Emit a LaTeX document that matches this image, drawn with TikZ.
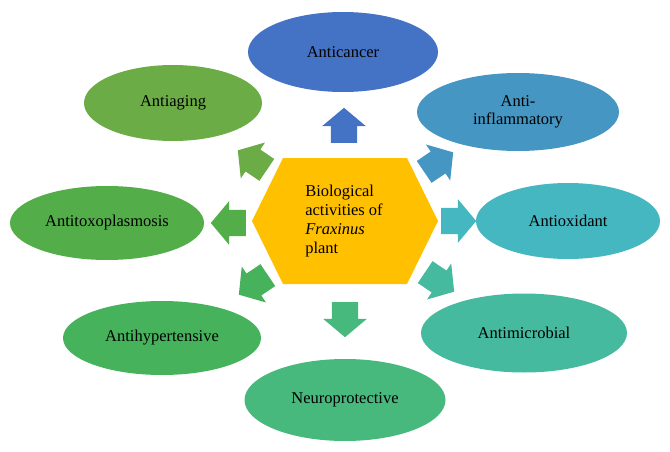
\documentclass[tikz,border=0pt]{standalone}
\usepackage{fontspec}
\setmainfont{Liberation Serif}
\usetikzlibrary{shapes.geometric,shapes.arrows}

\definecolor{hexgold}{HTML}{FFC000}
\definecolor{cancerblue}{HTML}{4472C4}
\definecolor{inflamblue}{HTML}{4596C3}
\definecolor{oxidteal}{HTML}{45B7C1}
\definecolor{microteal}{HTML}{45BA9F}
\definecolor{neurogreen}{HTML}{47B97D}
\definecolor{hypergreen}{HTML}{46B35C}
\definecolor{toxogreen}{HTML}{53AE4A}
\definecolor{aginggreen}{HTML}{6CAC46}

\begin{document}
\begin{tikzpicture}[x=1pt, y=-1pt,
  activity/.style={ellipse, inner sep=0pt, align=center, font=\fontsize{16.5}{17.5}\selectfont},
  blockarr/.style={single arrow, draw=none, anchor=tail, inner xsep=0pt, inner ysep=13pt, minimum height=35pt,
    single arrow head extend=8.5pt, single arrow tip angle=100}
]
\useasboundingbox (0,0) rectangle (670,452);

% centre hexagon
\fill[hexgold] (252,221) -- (283,158) -- (407,158) -- (438,221) -- (407,284) -- (283,284) -- cycle;
\node[align=left, font=\fontsize{16.5}{18.8}\selectfont] (core) at (344,221)
  {Biological\\activities of\\\textit{Fraxinus}\\plant};

% activities
\node[activity, fill=cancerblue, minimum width=190pt, minimum height=80pt] (cancer) at (343,52) {Anticancer};
\node[activity, fill=inflamblue, minimum width=202pt, minimum height=78pt] (inflam) at (518,112) {Anti-\\inflammatory};
\node[activity, fill=oxidteal, minimum width=184pt, minimum height=76pt] (oxid) at (568,221) {Antioxidant};
\node[activity, fill=microteal, minimum width=206pt, minimum height=79pt] (micro) at (524,333) {Antimicrobial};
\node[activity, fill=neurogreen, minimum width=201pt, minimum height=82pt] (neuro) at (345,400) {Neuroprotective};
\node[activity, fill=hypergreen, minimum width=198pt, minimum height=74pt] (hyper) at (162,338) {Antihypertensive};
\node[activity, fill=toxogreen, minimum width=194pt, minimum height=74pt] (toxo) at (107,223) {Antitoxoplasmosis};
\node[activity, fill=aginggreen, minimum width=178pt, minimum height=76pt] (aging) at (173,103) {Antiaging};

% block arrows (placed by their tails)
\node[blockarr, fill=cancerblue, rotate=90] (tocancer) at (344,143) {};
\node[blockarr, fill=inflamblue, rotate=34] (toinflam) at (424,172) {};
\node[blockarr, fill=oxidteal, rotate=0] (tooxid) at (441,221) {};
\node[blockarr, fill=microteal, rotate=-34] (tomicro) at (425,272) {};
\node[blockarr, fill=neurogreen, rotate=-90] (toneuro) at (345,302) {};
\node[blockarr, fill=hypergreen, rotate=214] (tohyper) at (268,275) {};
\node[blockarr, fill=toxogreen, rotate=180] (totoxo) at (246,223) {};
\node[blockarr, fill=aginggreen, rotate=146] (toaging) at (267,170) {};
\end{tikzpicture}
\end{document}
